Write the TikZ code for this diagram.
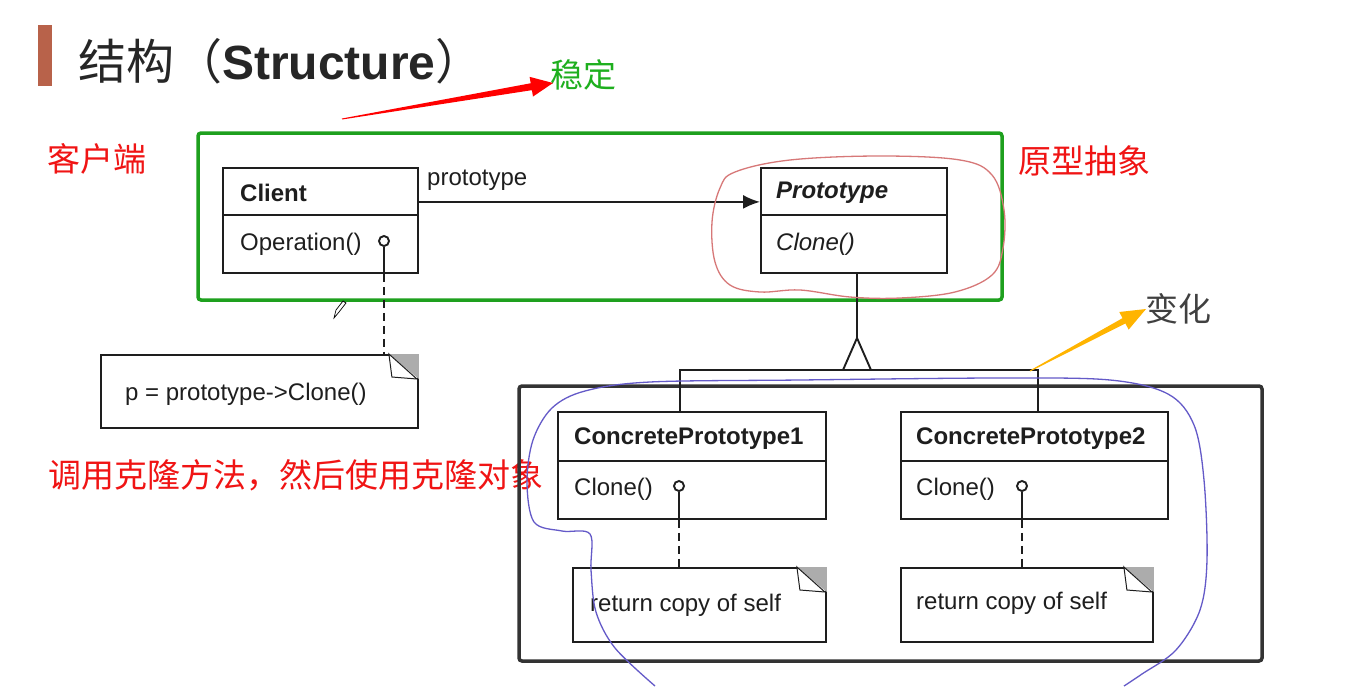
\documentclass[tikz,border=0pt]{standalone}
\usepackage{fontspec}
\setmainfont{Liberation Sans}
\newfontfamily\cjk{Noto Sans CJK SC}
\usetikzlibrary{arrows.meta,calc}
\definecolor{titlebar}{RGB}{184,98,74}
\definecolor{frameg}{RGB}{30,160,30}
\definecolor{labred}{RGB}{240,20,20}
\definecolor{labgreen}{RGB}{30,175,30}
\definecolor{handred}{RGB}{215,120,120}
\definecolor{handblue}{RGB}{100,90,200}
\definecolor{arrorange}{RGB}{255,180,0}
\definecolor{umlink}{RGB}{30,30,30}
\newcommand\notefold[1]{%
  \fill[gray!65] ($(#1.north east)+(-30,0)$) -- (#1.north east) -- ($(#1.north east)+(0,25)$) -- cycle;
  \draw[umlink,line width=1pt,fill=white] ($(#1.north east)+(-30,0)$) -- ($(#1.north east)+(-27,23)$) -- ($(#1.north east)+(-2,25)$) -- cycle;
}
\begin{document}
\begin{tikzpicture}[x=1pt,y=-1pt,
  umlbox/.style={draw=umlink, line width=1.9pt, inner sep=0pt, anchor=north west, fill=white},
  umltext/.style={anchor=west, inner sep=0pt, font=\fontsize{24}{28}\selectfont, text=umlink},
  cjklabel/.style={anchor=west, inner sep=0pt, font=\cjk\fontsize{33}{38}\selectfont},
  dashln/.style={draw=umlink, line width=1.9pt, dash pattern=on 8pt off 5pt},
  solidln/.style={draw=umlink, line width=1.9pt},
  port/.style={circle, draw=umlink, line width=1.9pt, minimum size=10pt, inner sep=0pt, fill=white}]
\useasboundingbox (0,0) rectangle (1350,686);
\fill[white] (0,0) rectangle (1350,686);

% title
\fill[titlebar] (38,25) rectangle (52,86);
\node[anchor=west, inner sep=0pt, font=\fontsize{48}{54}\selectfont, text=black!85] (title) at (78,61)
  {{\cjk 结构（}\textbf{Structure}{\cjk ）}};

% labels
\node[cjklabel, text=labgreen] (stable) at (550,75) {稳定};
\node[cjklabel, text=labred] (client_lbl) at (47,159) {客户端};
\node[cjklabel, text=labred] (proto_lbl) at (1018,161) {原型抽象};
\node[cjklabel, text=labred] (use_lbl) at (48,475) {调用克隆方法，然后使用克隆对象};
\node[cjklabel, text=black!75] (change_lbl) at (1145,309) {变化};

% frames
\draw[frameg, line width=3.5pt, rounded corners=3pt] (198,133) rectangle (1002,300);
\draw[black!80, line width=3.5pt, rounded corners=3pt] (519,386) rectangle (1262,661);

% Client class
\node[umlbox, minimum width=195pt, minimum height=47pt] (clientH) at (222,167) {};
\node[umlbox, minimum width=195pt, minimum height=58pt] (clientB) at (222,214) {};
\node[umltext, font=\bfseries\fontsize{24}{28}\selectfont] (clientT) at (240,193) {Client};
\node[umltext] (clientOp) at (240,244) {Operation()};
\node[port] (clientP) at (384,241) {};

% Prototype class
\node[umlbox, minimum width=186pt, minimum height=47pt] (protoH) at (760,167) {};
\node[umlbox, minimum width=186pt, minimum height=58pt] (protoB) at (760,214) {};
\node[umltext, font=\bfseries\itshape\fontsize{24}{28}\selectfont] (protoT) at (776,193) {Prototype};
\node[umltext, font=\itshape\fontsize{24}{28}\selectfont] (protoOp) at (776,244) {Clone()};

% association
\draw[solidln, -{Latex[length=17pt,width=14pt]}] ($(clientH.south east)+(0,-14)$) -- ($(protoH.south west)+(0,-14)$);
\node[umltext] (assocLbl) at (427,180) {prototype};

% client note
\node[umlbox, minimum width=317pt, minimum height=73pt] (noteC) at (100,354) {};
\notefold{noteC}
\node[umltext] (noteCT) at (125,394) {p = prototype->Clone()};
\draw[solidln] (clientP.south) -- (clientP.south |- clientB.south);
\draw[dashln] (clientP.south |- clientB.south) -- (clientP.south |- noteC.north);

% Concrete prototypes
\node[umlbox, minimum width=268pt, minimum height=49pt] (cp1H) at (557,411) {};
\node[umlbox, minimum width=268pt, minimum height=58pt] (cp1B) at (557,460) {};
\node[umltext, font=\bfseries\fontsize{24}{28}\selectfont] (cp1T) at (574,439) {ConcretePrototype1};
\node[umltext] (cp1Op) at (574,489) {Clone()};
\node[port] (cp1P) at (679,486) {};

\node[umlbox, minimum width=267pt, minimum height=49pt] (cp2H) at (900,411) {};
\node[umlbox, minimum width=267pt, minimum height=58pt] (cp2B) at (900,460) {};
\node[umltext, font=\bfseries\fontsize{24}{28}\selectfont] (cp2T) at (916,439) {ConcretePrototype2};
\node[umltext] (cp2Op) at (916,489) {Clone()};
\node[port] (cp2P) at (1022,486) {};

% notes for concrete prototypes
\node[umlbox, minimum width=253pt, minimum height=74pt] (note1) at (572,567) {};
\notefold{note1}
\node[umltext] (note1T) at (590,605) {return copy of self};
\node[umlbox, minimum width=252pt, minimum height=74pt] (note2) at (900,567) {};
\notefold{note2}
\node[umltext] (note2T) at (916,603) {return copy of self};
\draw[solidln] (cp1P.south) -- (cp1P.south |- cp1B.south);
\draw[dashln] (cp1P.south |- cp1B.south) -- (cp1P.south |- note1.north);
\draw[solidln] (cp2P.south) -- (cp2P.south |- cp2B.south);
\draw[dashln] (cp2P.south |- cp2B.south) -- (cp2P.south |- note2.north);

% generalization
\coordinate (apex) at (857,338);
\coordinate (bar) at (857,370);
\draw[solidln] (protoB.south -| apex) -- (apex);
\draw[solidln, fill=white, line join=miter] (apex) -- (843,370) -- (871,370) -- cycle;
\draw[solidln] (cp1H.north -| 680,0) -- (680,370) -- (1038,370) -- (cp2H.north -| 1038,0);

% hand-drawn annotations
\draw[handred, line width=1.3pt] plot[smooth cycle, tension=0.6] coordinates {
  (735,172) (790,160) (880,156) (960,160) (992,175) (1004,210) (1003,248) (992,275)
  (955,292) (900,298) (850,297) (800,290) (760,292) (730,285) (715,262) (712,222) (720,188)};
\draw[handblue, line width=1.3pt] plot[smooth, tension=0.55] coordinates {
  (655,686) (615,648) (596,612) (591,570) (590,534) (562,531) (534,522) (527,482)
  (533,440) (552,408) (585,391) (650,382) (800,380) (1000,378) (1110,380) (1168,394)
  (1194,425) (1204,480) (1207,560) (1200,610) (1176,650) (1142,674) (1124,686)};

% tapered arrows
\fill[red] (341.92,118.51) -- (530.71,83.25) -- (529.6,76.84) -- (553,83) -- (533.0,96.56) -- (531.89,90.15) -- (342.08,119.49) -- cycle;
\fill[arrorange] (1029.76,370.56) -- (1122.54,318.14) -- (1119.24,311.97) -- (1146,309) -- (1128.67,329.61) -- (1125.36,323.44) -- (1030.24,371.44) -- cycle;

% pencil cursor
\draw[black, line width=0.7pt, fill=white] (334,318) -- (336,310) -- (343,301) -- (346,303) -- (339,312) -- cycle;
\end{tikzpicture}
\end{document}
